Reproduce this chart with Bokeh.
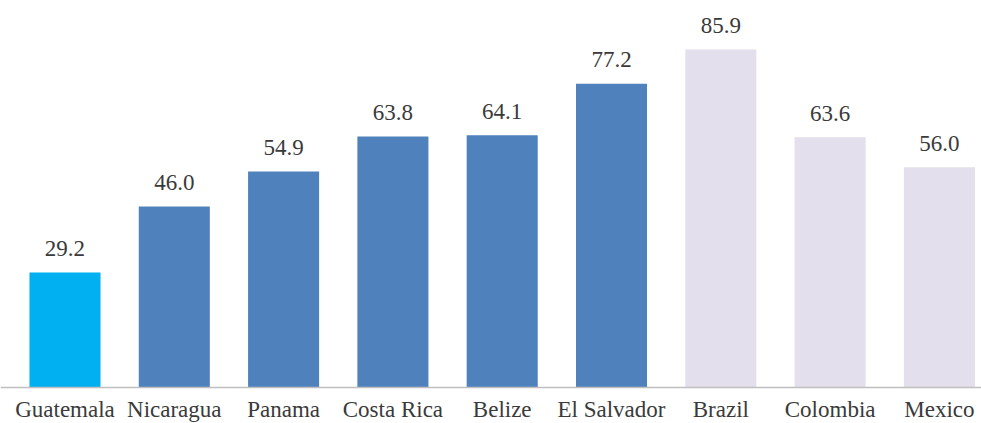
from bokeh.plotting import figure
from bokeh.models import ColumnDataSource, Range1d, Span
from bokeh.core.properties import value
from bokeh.embed import file_html
from bokeh.resources import INLINE

categories = ["Guatemala", "Nicaragua", "Panama", "Costa Rica", "Belize",
              "El Salvador", "Brazil", "Colombia", "Mexico"]
values = [29.2, 46.0, 54.9, 63.8, 64.1, 77.2, 85.9, 63.6, 56.0]
colors = ["#00B0F0", "#4F81BD", "#4F81BD", "#4F81BD", "#4F81BD",
          "#4F81BD", "#E4DFEC", "#E4DFEC", "#E4DFEC"]

FONT = "'Liberation Serif', 'Times New Roman', serif"

xs = list(range(len(categories)))
src = ColumnDataSource(dict(x=xs, top=values, color=colors, cat=categories,
                            zero=[0] * len(xs),
                            label=[f"{v:.1f}" for v in values]))

p = figure(width=981, height=423, output_backend="svg", toolbar_location=None,
           x_range=Range1d(-0.590, 8.385), y_range=Range1d(-9.15, 98.35),
           min_border_left=0, min_border_right=0, min_border_top=0,
           min_border_bottom=0)
p.outline_line_color = None
p.xgrid.visible = False
p.ygrid.visible = False
p.xaxis.visible = False
p.yaxis.visible = False

p.vbar(x="x", top="top", width=0.65, bottom=0, color="color", source=src,
       line_color=None)
p.add_layout(Span(location=0, dimension="width", line_color="#BFBFBF",
                  line_width=1.5))

# value labels above bars
p.text(x="x", y="top", text="label", source=src, text_align="center",
       text_baseline="alphabetic", y_offset=-24, text_font_size="23px",
       text_font=value(FONT), text_color="#3A3A3A")

# category labels under the baseline
p.text(x="x", y="zero", text="cat", source=src, text_align="center",
       text_baseline="alphabetic", y_offset=22, text_font_size="23px",
       text_font=value(FONT), text_color="#3A3A3A")

open("out.html", "w").write(file_html(p, INLINE))
